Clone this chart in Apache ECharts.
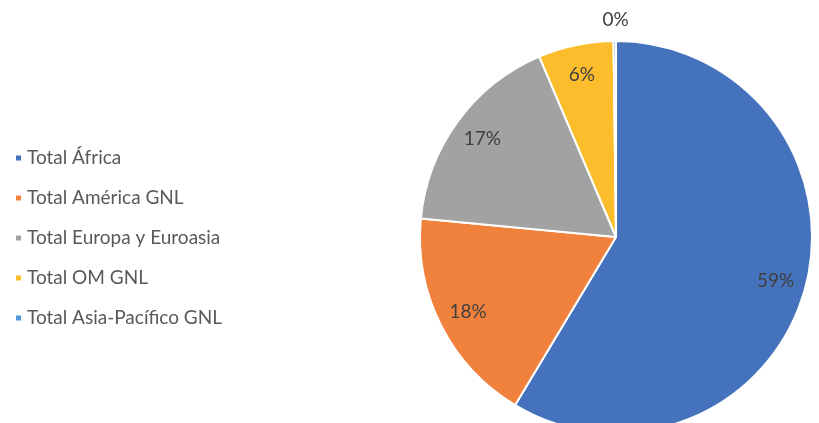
<!DOCTYPE html>
<html lang="es">
<head>
    <meta charset="UTF-8">
    <title>GNL</title>
    <style>
        body, html {
            margin: 0;
            width: 100%;
            height: 100%;
            background: #fff;
        }
        #container {
            width: 819px;
            height: 423px;
        }
    </style>
    <script src="https://cdn.jsdelivr.net/npm/echarts@6/dist/echarts.min.js"></script>
</head>
<body>
<div id="container"></div>
<script type="text/javascript">
    var regiones = ['Total África', 'Total América GNL', 'Total Europa y Euroasia', 'Total OM GNL', 'Total Asia-Pacífico GNL'];
    var valores = [58.6, 17.9, 17.1, 6.2, 0.2];
    var colores = ['#4472BD', '#F0823E', '#A2A2A2', '#FBBD2C', '#4F97D6'];

    var dom = document.getElementById("container");
    var myChart = echarts.init(dom);

    var R = 196;
    var centro = [616, 237];

    // porciones
    var datosPie = regiones.map(function (n, i) {
        return {name: n, value: valores[i], itemStyle: {color: colores[i]}};
    });
    // solo etiquetas (anillo invisible para colocarlas a ~0.83R)
    var datosEtiq = regiones.map(function (n, i) {
        var d = {name: n, value: valores[i]};
        if (i === 4) {
            d.label = {position: 'outside', distanceToLabelLine: -14};
            d.labelLine = {show: false, length: 21, length2: 0};
        }
        return d;
    });

    var option = {
        animation: false,
        color: colores,
        legend: {
            orient: 'vertical',
            left: 9,
            top: 143,
            icon: 'rect',
            itemWidth: 7,
            itemHeight: 7,
            itemGap: 20,
            data: regiones,
            textStyle: {fontFamily: 'Lato', fontSize: 19, color: '#595959', lineHeight: 20}
        },
        series: [{
            type: 'pie',
            center: centro,
            radius: [0, R],
            startAngle: 90,
            clockwise: true,
            silent: true,
            data: datosPie,
            label: {show: false},
            labelLine: {show: false},
            itemStyle: {borderColor: '#fff', borderWidth: 2}
        }, {
            type: 'pie',
            center: centro,
            radius: [R * 0.66, R],
            startAngle: 90,
            clockwise: true,
            silent: true,
            avoidLabelOverlap: false,
            data: datosEtiq,
            itemStyle: {color: 'rgba(0,0,0,0)'},
            label: {
                show: true,
                position: 'inside',
                formatter: function (p) { return Math.round(p.value) + '%'; },
                fontFamily: 'Lato',
                fontSize: 19,
                color: '#404040'
            },
            labelLine: {show: false}
        }]
    };
    myChart.setOption(option);
</script>
</body>
</html>
